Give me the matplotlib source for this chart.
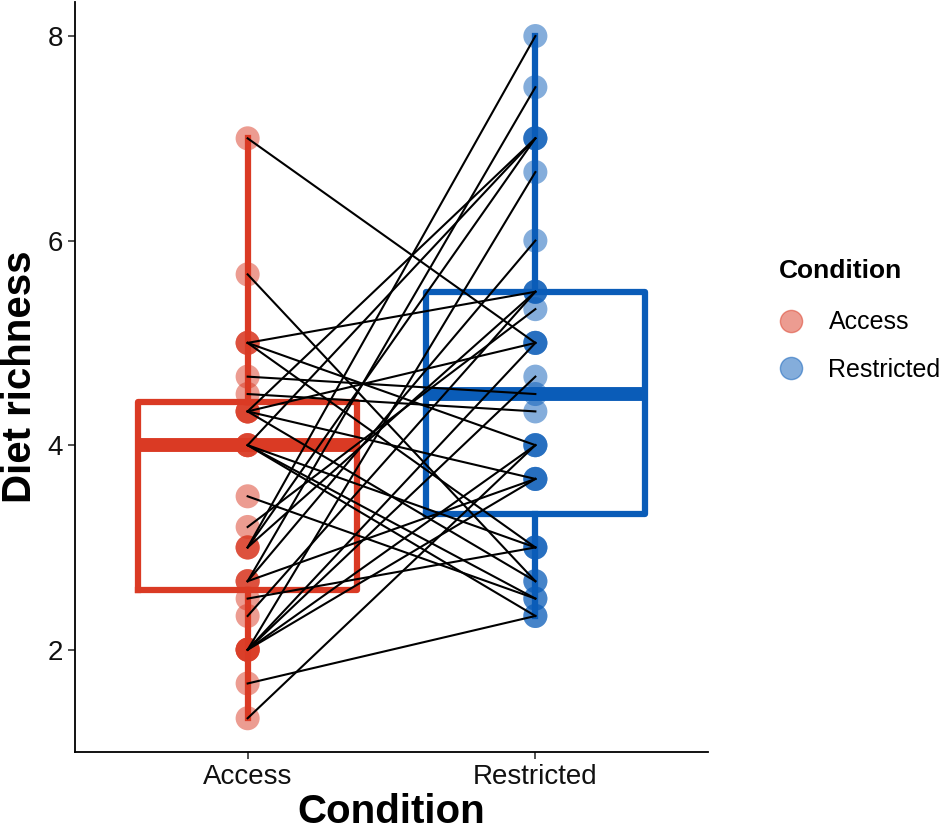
import matplotlib.pyplot as plt
import numpy as np
from matplotlib.lines import Line2D

plt.rcParams['font.family'] = ['Liberation Sans', 'DejaVu Sans']

categories = ['Access', 'Restricted']
colors = ['#DA3A24', '#0A5CB8']

access = [7, 5.67, 5, 5, 5, 4.67, 4.5, 4.33, 4.33, 4.33, 4.33, 4, 4, 4, 4,
          3.5, 3.2, 3, 3, 3, 2.67, 2.67, 2.67, 2.5, 2.33, 2, 2, 2, 2, 2,
          1.67, 1.33]
restricted = [5, 2.67, 5.5, 4, 3, 4.5, 4.33, 7, 3.67, 2.67, 5, 7, 3, 2.33, 2.5,
              2.5, 5.33, 8, 7, 5.5, 7.5, 6, 3.67, 3, 5.5, 6.67, 5, 4.67, 4, 3.67,
              2.33, 4]

# box statistics as drawn in the reference
q1 = [2.58, 3.33]
med = [4.0, 4.5]
q3 = [4.42, 5.5]
whislo = [1.33, 2.33]
whishi = [7.0, 8.0]

fig = plt.figure(figsize=(9.5, 8.33), dpi=100)
ax = fig.add_axes([75 / 950, 81 / 833, 633 / 950, 750 / 833])

for i in range(2):
    stats = [{'q1': q1[i], 'med': med[i], 'q3': q3[i],
              'whislo': whislo[i], 'whishi': whishi[i], 'fliers': []}]
    ax.bxp(stats, positions=[i + 1], widths=0.76, showcaps=False,
           boxprops=dict(color=colors[i], linewidth=4.5),
           whiskerprops=dict(color=colors[i], linewidth=4.5),
           medianprops=dict(color=colors[i], linewidth=10, solid_capstyle='butt'),
           manage_ticks=False, zorder=1)

ax.scatter(np.ones(len(access)), access, s=300, color=colors[0], alpha=0.5,
           edgecolors='none', zorder=2)
ax.scatter(np.full(len(restricted), 2), restricted, s=300, color=colors[1], alpha=0.5,
           edgecolors='none', zorder=2)

for a, r in zip(access, restricted):
    ax.plot([1, 2], [a, r], color='black', linewidth=1.5, zorder=3)

ax.set_xlim(0.4, 2.6)
ax.set_ylim(1.0, 8.333)
ax.set_xticks([1, 2])
ax.set_xticklabels(categories)
ax.set_yticks([2, 4, 6, 8])
ax.tick_params(axis='both', labelsize=20, length=5, width=1.2, color='#333333',
               labelcolor='#111111')
for s in ['top', 'right']:
    ax.spines[s].set_visible(False)
for s in ['left', 'bottom']:
    ax.spines[s].set_linewidth(1.3)

ax.set_xlabel('Condition', fontsize=29, fontweight='bold', labelpad=2)
ax.set_ylabel('Diet richness', fontsize=29, fontweight='bold', labelpad=6)

handles = [Line2D([], [], marker='o', linestyle='none', markersize=16,
                  markerfacecolor=c, markeredgecolor=c, alpha=0.5) for c in colors]
leg = fig.legend(handles, categories, title='Condition', loc='upper left',
                 bbox_to_anchor=(756 / 950, 1 - 236 / 833), frameon=False,
                 fontsize=18, title_fontproperties={'weight': 'bold', 'size': 19},
                 handlelength=1.0, handletextpad=1.0, labelspacing=0.95)
leg._legend_box.align = 'left'
leg._legend_box.sep = 20

fig.savefig('out.png', dpi=100)
